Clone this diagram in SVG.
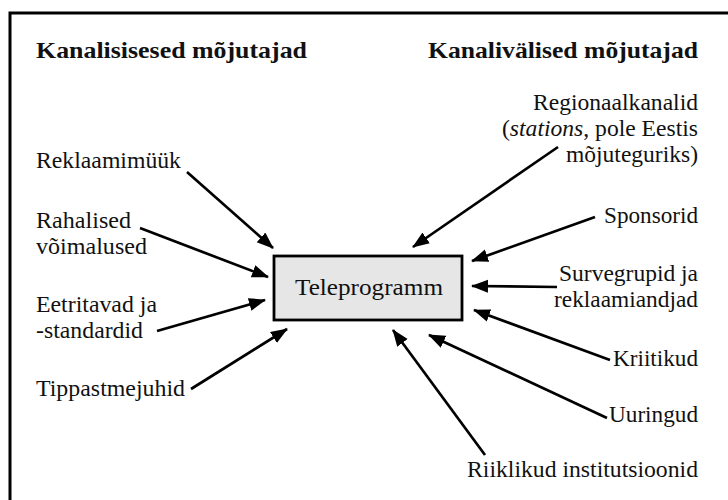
<svg xmlns="http://www.w3.org/2000/svg" width="728" height="500" viewBox="0 0 728 500">
  <style>
    text { font-family: 'Liberation Serif', 'Times New Roman', serif; font-size: 22.5px; fill: #111; }
    .title { font-weight: bold; }
    .r { text-anchor: end; }
    .c { stroke: #000; stroke-width: 2.7; fill: none; marker-end: url(#ah); }
  </style>
  <defs>
    <marker id="ah" markerUnits="userSpaceOnUse" markerWidth="20" markerHeight="14" refX="16" refY="6.5" orient="auto">
      <path d="M0,0 L17,6.5 L0,13 z" fill="#000"/>
    </marker>
  </defs>
  <rect x="0" y="0" width="728" height="500" fill="#fff"/>
  <rect x="10" y="13" width="800" height="600" fill="none" stroke="#000" stroke-width="3"/>

  <g id="titles">
    <text class="title" x="36" y="58" textLength="271" lengthAdjust="spacingAndGlyphs">Kanalisisesed mõjutajad</text>
    <text class="title r" x="698" y="58" textLength="270" lengthAdjust="spacingAndGlyphs">Kanalivälised mõjutajad</text>
  </g>

  <g id="connectors">
    <line class="c" x1="187" y1="172" x2="273" y2="248"/>
    <line class="c" x1="140" y1="228" x2="268" y2="277"/>
    <line class="c" x1="157" y1="331" x2="265" y2="300"/>
    <line class="c" x1="191" y1="389" x2="287" y2="329"/>
    <line class="c" x1="558" y1="147" x2="413" y2="247"/>
    <line class="c" x1="595" y1="217" x2="472" y2="261"/>
    <line class="c" x1="557" y1="287" x2="472" y2="286"/>
    <line class="c" x1="610" y1="360" x2="474" y2="310"/>
    <line class="c" x1="607" y1="418" x2="429" y2="335"/>
    <line class="c" x1="485" y1="455" x2="393" y2="330"/>
  </g>

  <g id="teleprogramm">
    <rect x="274" y="256" width="188" height="64" fill="#e6e6e6" stroke="#000" stroke-width="2.8"/>
    <text x="369" y="295" text-anchor="middle" textLength="148" lengthAdjust="spacingAndGlyphs">Teleprogramm</text>
  </g>

  <g id="reklaamimyyk"><text x="36" y="168" textLength="145" lengthAdjust="spacingAndGlyphs">Reklaamimüük</text></g>
  <g id="rahalised">
    <text x="36" y="228" textLength="95" lengthAdjust="spacingAndGlyphs">Rahalised</text>
    <text x="36" y="254" textLength="111" lengthAdjust="spacingAndGlyphs">võimalused</text>
  </g>
  <g id="eetritavad">
    <text x="36" y="312" textLength="121" lengthAdjust="spacingAndGlyphs">Eetritavad ja</text>
    <text x="36" y="338" textLength="107" lengthAdjust="spacingAndGlyphs">-standardid</text>
  </g>
  <g id="tippastmejuhid"><text x="36" y="396" textLength="149" lengthAdjust="spacingAndGlyphs">Tippastmejuhid</text></g>

  <g id="regionaalkanalid">
    <text class="r" x="698" y="110" textLength="165" lengthAdjust="spacingAndGlyphs">Regionaalkanalid</text>
    <text class="r" x="698" y="136" textLength="196" lengthAdjust="spacingAndGlyphs">(<tspan font-style="italic">stations</tspan>, pole Eestis</text>
    <text class="r" x="698" y="162" textLength="132" lengthAdjust="spacingAndGlyphs">mõjuteguriks)</text>
  </g>
  <g id="sponsorid"><text class="r" x="698" y="223" textLength="94" lengthAdjust="spacingAndGlyphs">Sponsorid</text></g>
  <g id="survegrupid">
    <text class="r" x="698" y="281" textLength="139" lengthAdjust="spacingAndGlyphs">Survegrupid ja</text>
    <text class="r" x="698" y="307" textLength="144" lengthAdjust="spacingAndGlyphs">reklaamiandjad</text>
  </g>
  <g id="kriitikud"><text class="r" x="698" y="366" textLength="85" lengthAdjust="spacingAndGlyphs">Kriitikud</text></g>
  <g id="uuringud"><text class="r" x="698" y="422" textLength="89" lengthAdjust="spacingAndGlyphs">Uuringud</text></g>
  <g id="riiklikud"><text class="r" x="698" y="477" textLength="231" lengthAdjust="spacingAndGlyphs">Riiklikud institutsioonid</text></g>
</svg>
